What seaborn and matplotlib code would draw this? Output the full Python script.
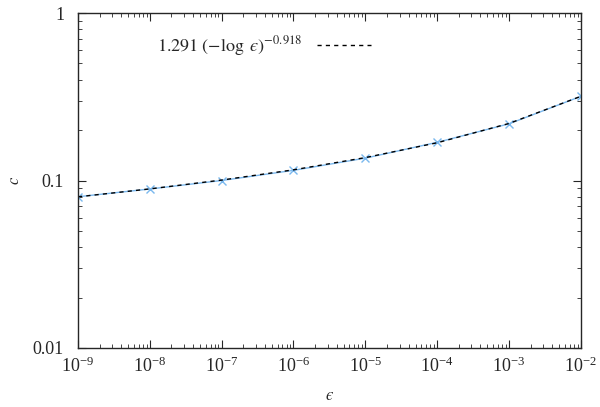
import matplotlib
matplotlib.use("Agg")
import matplotlib.pyplot as plt
from matplotlib.ticker import NullFormatter
import seaborn as sns
import pandas as pd

# measured points
eps = [1e-9, 1e-8, 1e-7, 1e-6, 1e-5, 1e-4, 1e-3, 1e-2]
c_vals = [0.080, 0.089, 0.100, 0.115, 0.136, 0.169, 0.218, 0.318]
# fit curve read at the same abscissas
fit_vals = [0.0799, 0.0891, 0.1006, 0.1158, 0.1370, 0.1680, 0.2190, 0.3180]
fit_label = "$1.291\\ (-\\log\\ \u03f5)^{-0.918}$"
y_ticks = [0.01, 0.1, 1]
y_ticklabels = ["0.01", "0.1", "1"]

sns.set_style("ticks")
plt.rcParams["font.family"] = ["Liberation Serif", "DejaVu Serif"]
plt.rcParams["mathtext.fontset"] = "stix"
plt.rcParams["font.size"] = 13

df = pd.DataFrame({"eps": eps, "c": c_vals, "fit": fit_vals})

fig = plt.figure(figsize=(6.0, 4.07), dpi=100)
ax = fig.add_axes([0.13, 0.145, 0.838, 0.823])

sns.lineplot(data=df, x="eps", y="c", ax=ax, color="#7ab8ee", lw=1.0,
             marker="x", markersize=6, markeredgewidth=1.0, markeredgecolor="#7ab8ee")
sns.lineplot(data=df, x="eps", y="fit", ax=ax, color="black", lw=1.0,
             linestyle=(0, (3, 3)), label=fit_label)

ax.set_xscale("log")
ax.set_yscale("log")
ax.set_xlim(1e-9, 1e-2)
ax.set_ylim(0.01, 1)
ax.set_xticks(eps)
ax.set_yticks(y_ticks)
ax.set_yticklabels(y_ticklabels)
ax.xaxis.set_minor_formatter(NullFormatter())
ax.yaxis.set_minor_formatter(NullFormatter())
ax.set_xlabel("$\u03f5$", fontsize=12)
ax.set_ylabel("$c$", fontsize=12)
ax.xaxis.set_label_coords(0.5, -0.12)
ax.yaxis.set_label_coords(-0.11, 0.5)
ax.tick_params(which="both", direction="in", top=True, right=True, labelsize=13)
ax.tick_params(axis="x", which="major", pad=6)
ax.tick_params(axis="y", which="major", pad=10)
ax.tick_params(which="major", length=6)
ax.tick_params(which="minor", length=3)
for s in ax.spines.values():
    s.set_linewidth(1.0)

leg = ax.legend(loc="upper center", bbox_to_anchor=(0.37, 0.985), frameon=False,
                markerfirst=False, handlelength=3.0, fontsize=13)

fig.savefig("out.png", dpi=100)
